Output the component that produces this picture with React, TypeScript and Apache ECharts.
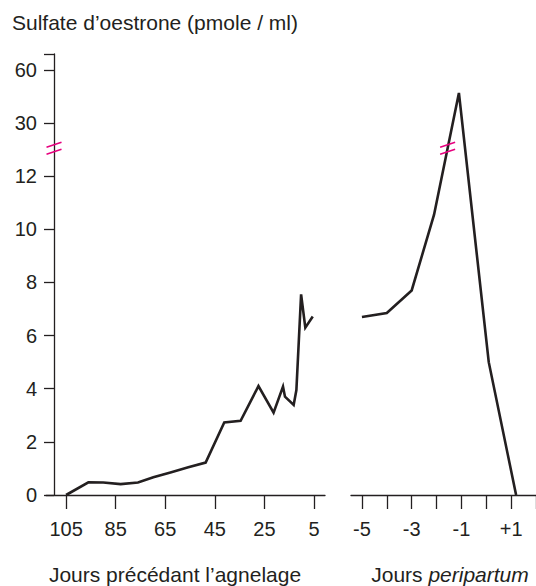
import React, { useEffect, useRef } from 'react';
import * as echarts from 'echarts';

// Y axis: display scale (0..12 linear, then a break: 30 drawn at 14, 60 at 16)
const yTickValues = [0, 2, 4, 6, 8, 10, 12, 14, 16];
const yTickLabels = ['0', '2', '4', '6', '8', '10', '12', '30', '60'];

// Days before lambing (left panel)
const preDays = [105, 96, 90, 83, 76, 69.8, 62.9, 55.7, 48.7, 41.2, 34.6, 27.4, 21.3, 17.5, 16.7, 13.2, 12.1, 10.2, 8.5, 5.5];
const preValues = [0, 0.48, 0.47, 0.41, 0.47, 0.67, 0.85, 1.04, 1.22, 2.73, 2.79, 4.1, 3.1, 4.08, 3.7, 3.39, 3.95, 7.55, 6.3, 6.72];
const preTicks = [105, 85, 65, 45, 25, 5];

// Peripartum days (right panel)
const periDays = [-5, -4, -3, -2.1, -1.1, 0.1, 1.2];
const periValues = [6.7, 6.85, 7.7, 10.55, 47, 5.0, 0];
const periTicks = [-5, -4, -3, -2, -1, 0, 1, 2];
const periLabels = [-5, -3, -1, 1];

const INK = '#231f20';
const PINK = '#e6007e';
const FONT = '"Liberation Sans", Arial, Helvetica, sans-serif';

function toDisplay(v: number): number {
  if (v <= 12) return v;
  if (v >= 30) return 14 + (v - 30) / 15;
  return 12 + (2 * (v - 12)) / 18;
}

const BREAK_Y = 13.05;

export default function App() {
  const ref = useRef<HTMLDivElement>(null);

  useEffect(() => {
    if (!ref.current) return;
    const chart = echarts.init(ref.current, undefined, { renderer: 'svg' });

    const preMin = 0.56;
    const preMax = 113.1;

    const baseText = { fontFamily: FONT, fill: INK };

    const option: any = {
      animation: false,
      backgroundColor: '#ffffff',
      grid: [
        { left: 46, top: 54, bottom: 91, width: 279, outerBoundsMode: 'none', containLabel: false },
        { left: 351, top: 54, bottom: 91, right: 0, outerBoundsMode: 'none', containLabel: false },
      ],
      xAxis: [
        {
          type: 'value',
          gridIndex: 0,
          inverse: true,
          min: preMin,
          max: preMax,
          position: 'bottom',
          axisLine: { show: true, onZero: false, lineStyle: { color: INK, width: 1.3 } },
          axisTick: { show: true, length: 14, inside: false, customValues: preTicks, lineStyle: { color: INK, width: 1.3 } },
          axisLabel: {
            show: true,
            customValues: preTicks,
            margin: 24,
            fontSize: 20,
            fontFamily: FONT,
            color: INK,
            formatter: (v: number) => String(v),
          },
          splitLine: { show: false },
        },
        {
          type: 'value',
          gridIndex: 1,
          min: -5.44,
          max: 2,
          position: 'bottom',
          axisLine: { show: true, onZero: false, lineStyle: { color: INK, width: 1.3 } },
          axisTick: { show: true, length: 14, inside: false, customValues: periTicks, lineStyle: { color: INK, width: 1.3 } },
          axisLabel: {
            show: true,
            customValues: periLabels,
            margin: 24,
            fontSize: 20,
            fontFamily: FONT,
            color: INK,
            formatter: (v: number) => (v > 0 ? '+' + v : String(v)),
          },
          splitLine: { show: false },
        },
      ],
      yAxis: [
        {
          type: 'value',
          gridIndex: 0,
          min: 0,
          max: 16.6,
          interval: 2,
          offset: -8,
          axisLine: { show: true, onZero: false, lineStyle: { color: INK, width: 1.3 } },
          axisTick: { show: true, length: 10, inside: false, lineStyle: { color: INK, width: 1.3 } },
          axisLabel: {
            show: true,
            margin: 17,
            fontSize: 20,
            fontFamily: FONT,
            color: INK,
            formatter: (v: number) => {
              const i = yTickValues.indexOf(v);
              return i >= 0 ? yTickLabels[i] : '';
            },
          },
          splitLine: { show: false },
        },
        {
          type: 'value',
          gridIndex: 1,
          min: 0,
          max: 16.6,
          interval: 2,
          show: false,
          splitLine: { show: false },
        },
      ],
      series: [
        {
          type: 'line',
          xAxisIndex: 0,
          yAxisIndex: 0,
          data: preDays.map((d, i) => [d, toDisplay(preValues[i])]),
          showSymbol: false,
          symbol: 'none',
          clip: false,
          lineStyle: { color: INK, width: 2.6, join: 'miter', miterLimit: 10, cap: 'butt' },
        },
        {
          type: 'line',
          xAxisIndex: 1,
          yAxisIndex: 1,
          data: periDays.map((d, i) => [d, toDisplay(periValues[i])]),
          showSymbol: false,
          symbol: 'none',
          clip: false,
          lineStyle: { color: INK, width: 2.6, join: 'miter', miterLimit: 10, cap: 'butt' },
        },
      ],
    };

    chart.setOption(option);

    // Break marks positioned through the axes' own scales
    const leftAxisX = (chart.convertToPixel({ xAxisIndex: 0 }, preMax) as number) + 8;
    const leftY = chart.convertToPixel({ yAxisIndex: 0 }, BREAK_Y) as number;

    const disp = periValues.map(toDisplay);
    let bx = periDays[0];
    for (let i = 0; i < disp.length - 1; i++) {
      if (disp[i] <= BREAK_Y && disp[i + 1] >= BREAK_Y) {
        const t = (BREAK_Y - disp[i]) / (disp[i + 1] - disp[i]);
        bx = periDays[i] + t * (periDays[i + 1] - periDays[i]);
        break;
      }
    }
    const rp = chart.convertToPixel({ gridIndex: 1 }, [bx, BREAK_Y]) as number[];

    const mark = (cx: number, cy: number, id: string) => [
      {
        type: 'line',
        id: id + 'a',
        z: 100,
        shape: { x1: cx - 7.5, y1: cy - 3.5 + 2.5, x2: cx + 7.5, y2: cy - 3.5 - 2.5 },
        style: { stroke: PINK, lineWidth: 1.6 },
      },
      {
        type: 'line',
        id: id + 'b',
        z: 100,
        shape: { x1: cx - 7.5, y1: cy + 3.5 + 2.5, x2: cx + 7.5, y2: cy + 3.5 - 2.5 },
        style: { stroke: PINK, lineWidth: 1.6 },
      },
    ];

    chart.setOption({
      graphic: [
        {
          type: 'text',
          id: 'title',
          left: 12,
          top: 12,
          style: { ...baseText, text: 'Sulfate d\u2019oestrone (pmole / ml)', fontSize: 21 },
        },
        {
          type: 'text',
          id: 'xl1',
          x: 175,
          y: 574,
          style: { ...baseText, text: 'Jours précédant l\u2019agnelage', fontSize: 21, align: 'center', verticalAlign: 'middle' },
        },
        {
          type: 'text',
          id: 'xl2',
          x: 450,
          y: 574,
          style: {
            ...baseText,
            text: '{n|Jours }{i|peripartum}',
            fontSize: 21,
            align: 'center',
            verticalAlign: 'middle',
            rich: {
              n: { fontFamily: FONT, fontSize: 21, fill: INK, color: INK },
              i: { fontFamily: FONT, fontSize: 21, fontStyle: 'italic', fill: INK, color: INK },
            },
          },
        },
        ...mark(leftAxisX, leftY, 'bl'),
        ...mark(rp[0], rp[1], 'br'),
      ],
    });

    return () => chart.dispose();
  }, []);

  return (
    <div
      ref={ref}
      style={{ position: 'fixed', left: 0, top: 0, width: 536, height: 586, background: '#fff' }}
    />
  );
}
